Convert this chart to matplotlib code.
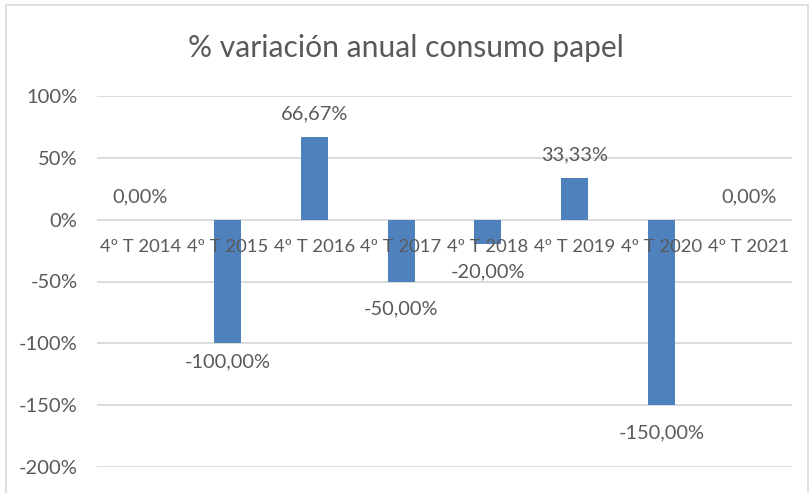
import matplotlib.pyplot as plt
from matplotlib.patches import Rectangle
from matplotlib.ticker import FuncFormatter

plt.rcParams['font.family'] = ['Lato', 'DejaVu Sans']

# Data (fractions)
categories = ["4º T 2014", "4º T 2015", "4º T 2016", "4º T 2017",
              "4º T 2018", "4º T 2019", "4º T 2020", "4º T 2021"]
values = [0.0, -1.0, 0.6667, -0.5, -0.2, 0.3333, -1.5, 0.0]
y_ticks = [-2.0, -1.5, -1.0, -0.5, 0.0, 0.5, 1.0]

# vertical offset of each data label (points)
label_offsets = [16.5, -13, 17, -19.5, -19.5, 17, -20, 16.5]

text_col = '#595959'
bar_col = '#4F81BD'
grid_col = '#D9D9D9'

fig = plt.figure(figsize=(8.11, 4.93), dpi=100)
ax = fig.add_axes([97 / 811, 1 - 467 / 493, (792 - 97) / 811, (467 - 96) / 493])

x = range(len(categories))
ax.bar(x, values, width=0.31, color=bar_col, zorder=2)

ax.set_xlim(-0.5, len(categories) - 0.5)
ax.set_ylim(-2.0, 1.0)
ax.set_yticks(y_ticks)
ax.yaxis.set_major_formatter(FuncFormatter(lambda v, p: f"{v * 100:.0f}%"))
ax.grid(axis='y', color=grid_col, linewidth=1.3)
ax.set_axisbelow(True)

# category labels sit on the zero line, drawn over the bars
ax.spines['bottom'].set_position(('data', 0))
ax.set_xticks(list(x))
ax.set_xticklabels(categories)
ax.xaxis.set_zorder(3)
for s in ax.spines.values():
    s.set_visible(False)
ax.tick_params(axis='x', length=0, pad=14, labelsize=13.3, labelcolor=text_col)
ax.tick_params(axis='y', length=0, pad=14, labelsize=14.5, labelcolor=text_col)

# data labels
for i, v in enumerate(values):
    lab = f"{v * 100:.2f}%".replace('.', ',')
    ax.annotate(lab, (i, v), xytext=(0, label_offsets[i]), textcoords='offset points',
                ha='center', va='center', fontsize=14.4, color=text_col, zorder=4)

fig.text(0.5, 1 - 48 / 493, "% variación anual consumo papel",
         ha='center', va='center', fontsize=21.6, color=text_col)

# chart border
fig.patches.append(Rectangle((6 / 811, -0.1), 802 / 811, 1.1 - 5 / 493,
                             transform=fig.transFigure, fill=False,
                             edgecolor='#D9D9D9', linewidth=1.2))

fig.savefig('out.png', dpi=100)
